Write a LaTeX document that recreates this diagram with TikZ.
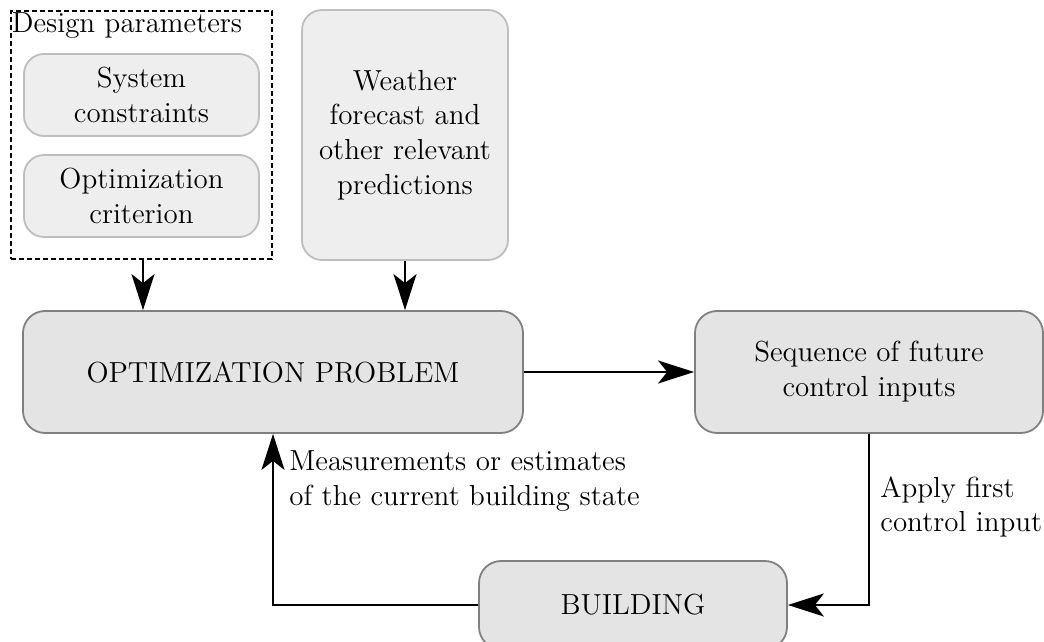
\documentclass[tikz,border=0pt]{standalone}
\usepackage{fontspec}
\usetikzlibrary{arrows.meta}
\definecolor{lightfill}{RGB}{238,238,238}
\definecolor{lightborder}{RGB}{190,190,190}
\definecolor{darkfill}{RGB}{228,228,228}
\definecolor{darkborder}{RGB}{128,128,128}
\tikzset{
  every node/.style={font=\fontsize{14.5}{17.4}\selectfont},
  smallbox/.style={draw=lightborder, fill=lightfill, line width=0.9pt, rounded corners=10pt, align=center, inner sep=0pt},
  bigbox/.style={draw=darkborder, fill=darkfill, line width=0.9pt, rounded corners=11pt, align=center, inner sep=0pt},
  groupbox/.style={draw=black, line width=0.6pt, dash pattern=on 2.5pt off 1.5pt, inner sep=0pt},
  conn/.style={line width=1pt, -{Stealth[length=18pt, width=11.5pt, inset=4.5pt]}},
  lbl/.style={align=left, inner sep=0pt, anchor=west},
}
\begin{document}
\begin{tikzpicture}[x=0.5pt,y=-0.5pt]
\useasboundingbox (0,0) rectangle (1044,642);
\node[groupbox, minimum width=130.5pt, minimum height=124pt] (dp) at (141.5,135) {};
\node[inner sep=0pt, anchor=base west] (dplabel) at (11.5,33) {Design parameters};
\node[smallbox, minimum width=117.5pt, minimum height=41pt] (sc) at (141.5,95) {System\\constraints};
\node[smallbox, minimum width=117.5pt, minimum height=41pt] (oc) at (141.5,196) {Optimization\\criterion};
\node[smallbox, minimum width=103pt, minimum height=125pt] (wf) at (405,135) {Weather\\forecast and\\other relevant\\predictions};
\node[bigbox, minimum width=250pt, minimum height=61pt] (op) at (273,372) {OPTIMIZATION PROBLEM};
\node[bigbox, minimum width=174pt, minimum height=61pt] (seq) at (869,372) {Sequence of future\\control inputs};
\node[bigbox, minimum width=154pt, minimum height=44pt] (bld) at (633,605) {BUILDING};
\node[lbl] (meas) at (289,481) {Measurements or estimates\\of the current building state};
\node[lbl] (apply) at (880,507) {Apply first\\control input};
\draw[conn] (dp.south -| 143,0) -- (op.north -| 143,0);
\draw[conn] (wf.south) -- (wf.south |- op.north);
\draw[conn] (op.east) -- (seq.west);
\draw[conn] (seq.south) |- (bld.east);
\draw[conn] (bld.west) -| (op.south);
\end{tikzpicture}
\end{document}
